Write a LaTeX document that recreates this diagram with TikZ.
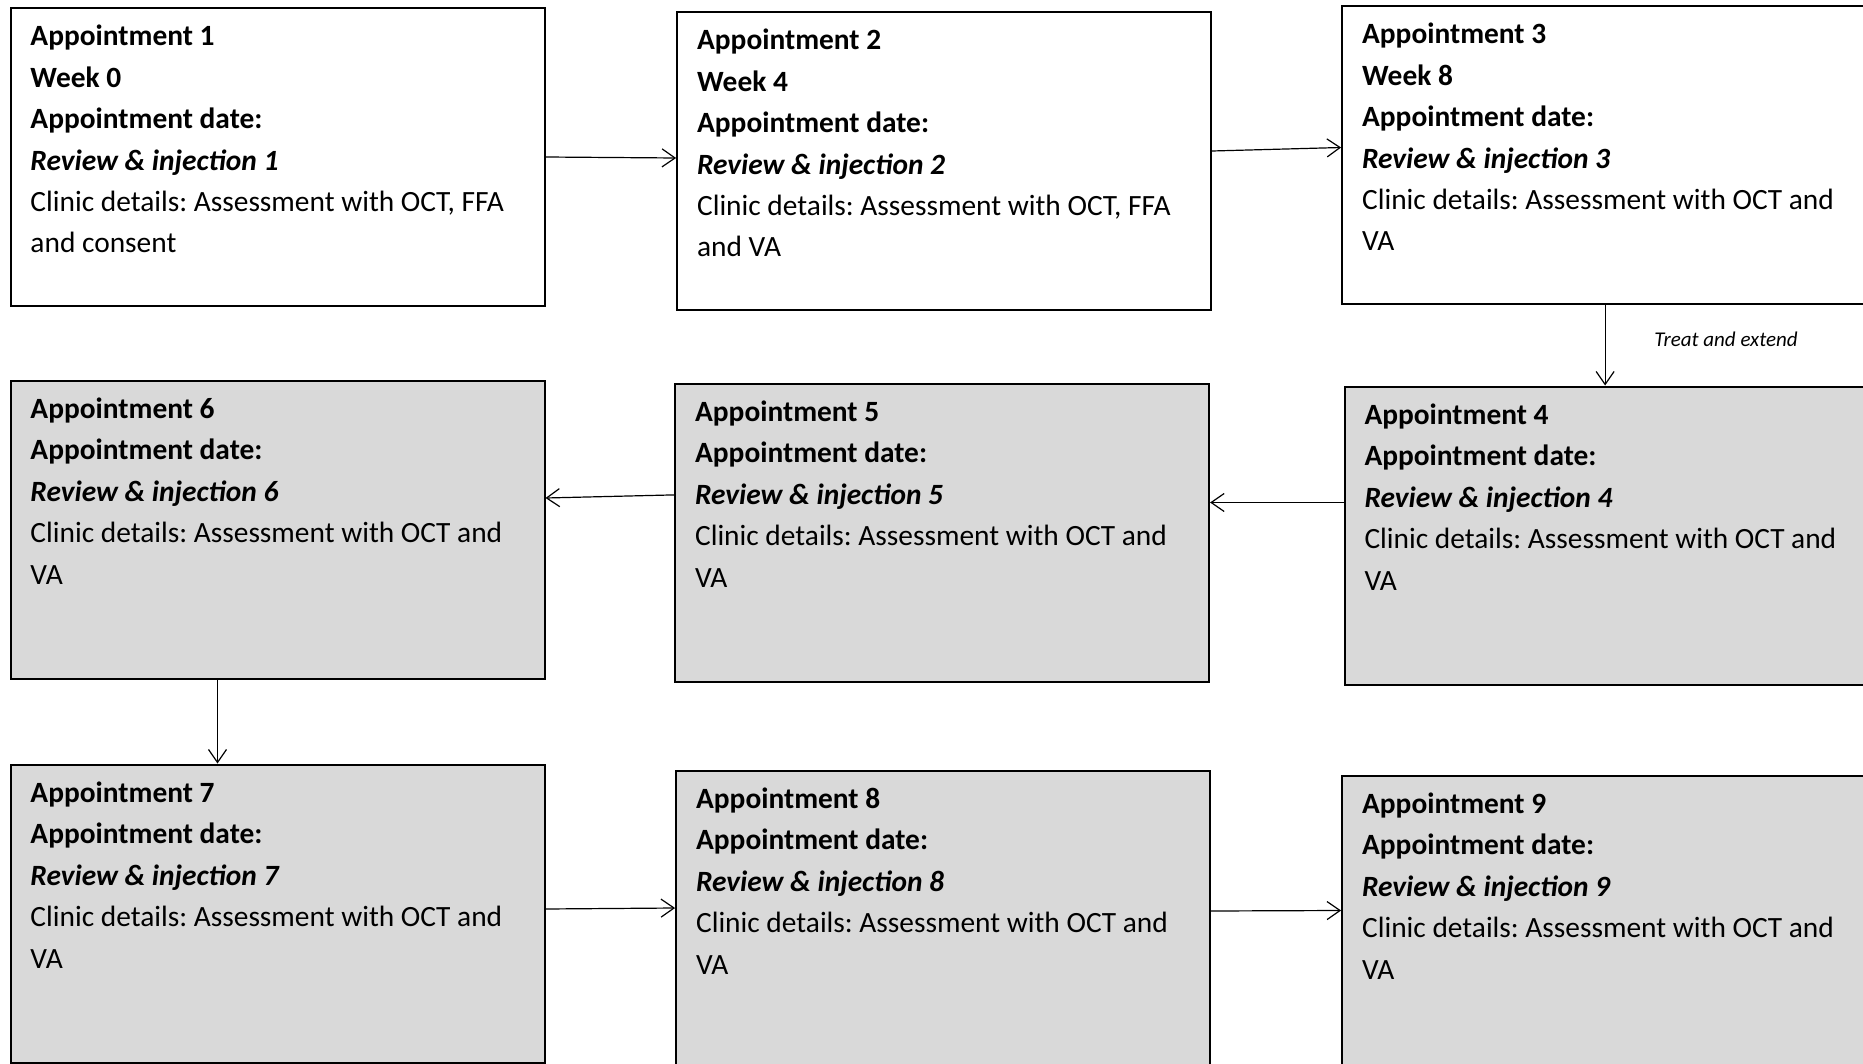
\documentclass[tikz,border=0pt]{standalone}
\usepackage{fontspec}
\setmainfont{Carlito}
\usepackage{xcolor}
\usetikzlibrary{positioning,arrows.meta}
\definecolor{apptfill}{HTML}{D9D9D9}
\frenchspacing
\newcommand{\apptbody}[1]{\parbox[t][140pt][t]{247pt}{\strut#1}}

\begin{document}
\begin{tikzpicture}[x=0.5pt, y=-0.5pt,
  appt/.style = {draw, line width=1pt, inner xsep=10pt, inner ysep=4.5pt, font=\fontsize{14.7}{20.7}\selectfont},
  apptgrey/.style = {appt, fill=apptfill},
  link/.style = {-{Straight Barb[length=6.5pt,width=9pt]}, line width=0.6pt},
  note/.style = {font=\fontsize{10.5}{12}\selectfont\itshape}]
\useasboundingbox (0,0) rectangle (1863,1064);
\clip (0,0) rectangle (1863,1064);

% first row
\node[appt, anchor=north west] (b1) at (9.5,7) {\apptbody{\textbf{Appointment 1}\\ \textbf{Week 0}\\ \textbf{Appointment date:}\\ \textbf{\textit{Review \& injection 1}}\\ Clinic details: Assessment with OCT, FFA\\ and consent}};
\node[appt, right=65.3pt of b1, yshift=-2pt] (b2) {\apptbody{\textbf{Appointment 2}\\ \textbf{Week 4}\\ \textbf{Appointment date:}\\ \textbf{\textit{Review \& injection 2}}\\ Clinic details: Assessment with OCT, FFA\\ and VA}};
\node[appt, right=64.5pt of b2, yshift=3pt] (b3) {\apptbody{\textbf{Appointment 3}\\ \textbf{Week 8}\\ \textbf{Appointment date:}\\ \textbf{\textit{Review \& injection 3}}\\ Clinic details: Assessment with OCT and\\ VA}};

% second row
\node[apptgrey, below=36.25pt of b1] (b6) {\apptbody{\textbf{Appointment 6}\\ \textbf{Appointment date:}\\ \textbf{\textit{Review \& injection 6}}\\ Clinic details: Assessment with OCT and\\ VA}};
\node[apptgrey, right=64.3pt of b6, yshift=-1.5pt] (b5) {\apptbody{\textbf{Appointment 5}\\ \textbf{Appointment date:}\\ \textbf{\textit{Review \& injection 5}}\\ Clinic details: Assessment with OCT and\\ VA}};
\node[apptgrey, right=66.7pt of b5, yshift=-1.5pt] (b4) {\apptbody{\textbf{Appointment 4}\\ \textbf{Appointment date:}\\ \textbf{\textit{Review \& injection 4}}\\ Clinic details: Assessment with OCT and\\ VA}};

% third row
\node[apptgrey, below=42pt of b6] (b7) {\apptbody{\textbf{Appointment 7}\\ \textbf{Appointment date:}\\ \textbf{\textit{Review \& injection 7}}\\ Clinic details: Assessment with OCT and\\ VA}};
\node[apptgrey, right=64.8pt of b7, yshift=-3pt] (b8) {\apptbody{\textbf{Appointment 8}\\ \textbf{Appointment date:}\\ \textbf{\textit{Review \& injection 8}}\\ Clinic details: Assessment with OCT and\\ VA}};
\node[apptgrey, right=65pt of b8, yshift=-2.5pt] (b9) {\apptbody{\textbf{Appointment 9}\\ \textbf{Appointment date:}\\ \textbf{\textit{Review \& injection 9}}\\ Clinic details: Assessment with OCT and\\ VA}};

\node[note] (te) at (1726,339) {Treat and extend};

% connectors
\draw[link] (b1.east) -- ([yshift=1.5pt]b2.west);
\draw[link] ([yshift=5pt]b2.east) -- ([yshift=3.75pt]b3.west);
\draw[link] ([xshift=-2pt]b3.south) -- ([xshift=-2pt]b3.south |- b4.north);
\draw[link] ([yshift=16.5pt]b4.west) -- ([yshift=15pt]b5.east);
\draw[link] ([yshift=18.8pt]b5.west) -- ([yshift=15.75pt]b6.east);
\draw[link] ([xshift=-30pt]b6.south) -- ([xshift=-30pt]b6.south |- b7.north);
\draw[link] ([yshift=2.25pt]b7.east) -- ([yshift=5.75pt]b8.west);
\draw[link] ([yshift=4.25pt]b8.east) -- ([yshift=7pt]b9.west);
\end{tikzpicture}
\end{document}
